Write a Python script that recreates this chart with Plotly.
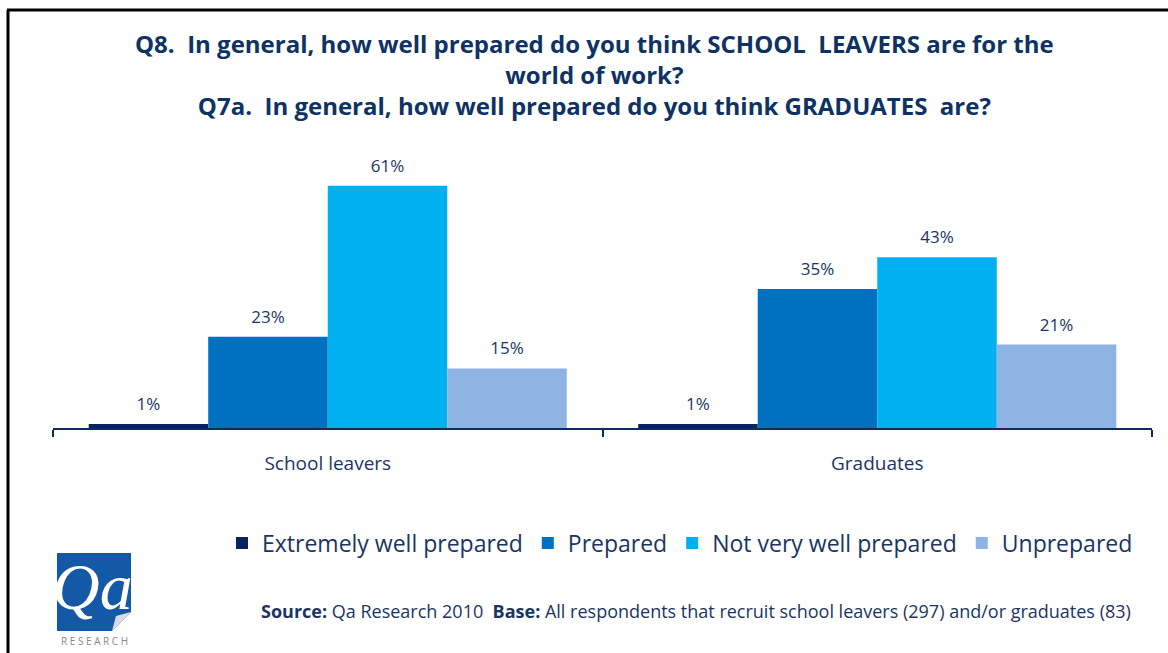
import plotly.graph_objects as go

# Survey results: how well prepared respondents think each group is
categories = ["School leavers", "Graduates"]
series_names = ["Extremely well prepared", "Prepared", "Not very well prepared", "Unprepared"]
extremely_well = [1, 1]
prepared = [23, 35]
not_very_well = [61, 43]
unprepared = [15, 21]
series_values = [extremely_well, prepared, not_very_well, unprepared]
series_colors = ["#0B2261", "#0070C0", "#00B0F0", "#8DB4E2"]

TITLE = ("Q8.  In general, how well prepared do you think <b>SCHOOL  LEAVERS</b> are for the<br>"
         "world of work?<br>"
         "Q7a.  In general, how well prepared do you think <b>GRADUATES</b>  are?")
SOURCE = ("<b>Source:</b> Qa Research 2010  <b>Base:</b> All respondents that recruit "
          "school leavers (297) and/or graduates (83)")

NAVY = "#0F2B62"
TEXT = "#1A3563"
FONT = "Open Sans"

W, H = 1168, 653
L, R, T, B = 53, 16, 150, 225
PW, PH = W - L - R, H - T - B


def px_x(px):
    return (px - L) / PW


def px_y(py):
    return (H - B - py) / PH


BARGAP = 0.13

fig = go.Figure()
for name, vals, color in zip(series_names, series_values, series_colors):
    fig.add_trace(go.Bar(
        x=categories, y=vals, name=name, marker=dict(color=color, line=dict(width=0)),
        offsetgroup=name, alignmentgroup="a", hoverinfo="skip",
    ))
# value labels above each bar
for name, vals in zip(series_names, series_values):
    fig.add_trace(go.Scatter(
        x=categories, y=vals, mode="markers+text", text=[f"{v}%" for v in vals],
        textposition="top center", textfont=dict(family=FONT, size=17, color=TEXT),
        marker=dict(size=14, opacity=0), offsetgroup=name, alignmentgroup="a",
        showlegend=False, hoverinfo="skip", cliponaxis=False,
    ))

shapes = [
    # frame lines
    dict(type="line", xref="paper", yref="paper", x0=px_x(8), x1=px_x(8), y0=px_y(10), y1=px_y(660),
         line=dict(color="#000000", width=3)),
    dict(type="line", xref="paper", yref="paper", x0=px_x(7), x1=px_x(1175), y0=px_y(10), y1=px_y(10),
         line=dict(color="#000000", width=3)),
    # logo tile
    dict(type="rect", xref="paper", yref="paper", x0=px_x(57), x1=px_x(131), y0=px_y(553), y1=px_y(631),
         fillcolor="#1459A6", line=dict(width=0)),
    dict(type="path", xref="paper", yref="paper",
         path=f"M {px_x(131)} {px_y(612)} L {px_x(131)} {px_y(631)} L {px_x(112)} {px_y(631)} Z",
         fillcolor="#FFFFFF", line=dict(width=0)),
    dict(type="path", xref="paper", yref="paper",
         path=f"M {px_x(131)} {px_y(612)} L {px_x(112)} {px_y(631)} L {px_x(116)} {px_y(616)} Z",
         fillcolor="#D9DDE3", line=dict(width=0)),
]

annotations = [
    dict(text=TITLE, xref="paper", yref="paper", x=px_x(594), y=px_y(75), showarrow=False,
         xanchor="center", yanchor="middle", align="center",
         font=dict(family=FONT, size=24, color="#0E3263", weight="bold")),
    dict(text=SOURCE, xref="paper", yref="paper", x=px_x(696), y=px_y(611), showarrow=False,
         xanchor="center", yanchor="middle", font=dict(family=FONT, size=18, color=TEXT)),
    dict(text="Qa", xref="paper", yref="paper", x=px_x(92), y=px_y(586), showarrow=False,
         xanchor="center", yanchor="middle",
         font=dict(family="Liberation Serif", size=66, color="#FFFFFF", style="italic")),
    dict(text="R E S E A R C H", xref="paper", yref="paper", x=px_x(94), y=px_y(641), showarrow=False,
         xanchor="center", yanchor="middle", font=dict(family=FONT, size=10, color="#8A8A8A")),
]

fig.update_layout(
    width=W, height=H, margin=dict(l=L, r=R, t=T, b=B, autoexpand=False),
    paper_bgcolor="#FFFFFF", plot_bgcolor="#FFFFFF",
    barmode="group", bargap=BARGAP, bargroupgap=0,
    scattermode="group", scattergap=BARGAP,
    font=dict(family=FONT, color=TEXT),
    showlegend=True,
    legend=dict(orientation="h", x=px_x(680), y=px_y(543), xanchor="center", yanchor="middle",
                font=dict(family=FONT, size=23, color=TEXT), bgcolor="rgba(0,0,0,0)"),
    shapes=shapes, annotations=annotations,
    xaxis=dict(range=[-0.5, 1.5], showline=True, linecolor=NAVY, linewidth=2,
               ticks="outside", tickson="boundaries", ticklen=7, tickwidth=2, tickcolor=NAVY,
               tickfont=dict(family=FONT, size=19, color=TEXT), ticklabelstandoff=17,
               showgrid=False, zeroline=False, fixedrange=True),
    yaxis=dict(range=[0, 70], visible=False, showgrid=False, zeroline=False, fixedrange=True),
)

fig.write_html("out.html")
